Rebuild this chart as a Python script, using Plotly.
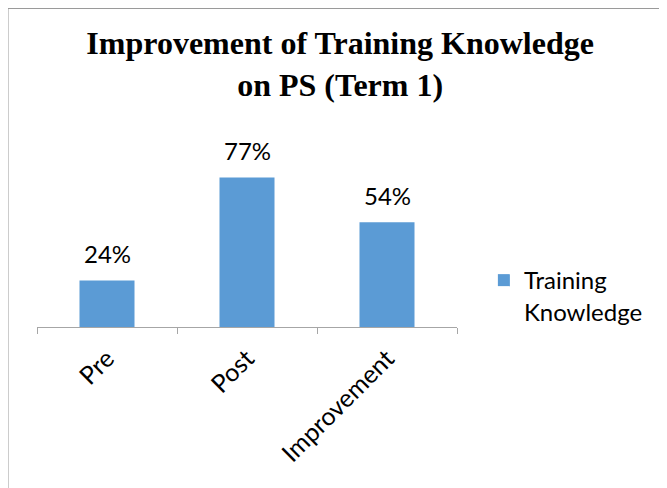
import plotly.graph_objects as go

categories = ["Pre", "Post", "Improvement"]
values = [0.24, 0.77, 0.54]
labels = ["24%", "77%", "54%"]
series_name = "Training<br>Knowledge"

BAR = "#5b9bd5"
GREY = "#9a9a9a"
AXIS = "#a6a6a6"
FONT = "Lato"

W, H = 659, 480
L, T, PW, PH = 29, 142, 420, 177

fig = go.Figure()
fig.add_trace(go.Bar(x=categories, y=values, name=series_name,
                     marker=dict(color=BAR, line=dict(width=0)),
                     showlegend=True))

for c, v, t in zip(categories, values, labels):
    fig.add_annotation(x=c, y=v, text=t, showarrow=False, yanchor="middle",
                       yshift=27, font=dict(family=FONT, size=24, color="#000"))

fig.add_shape(type="rect", xref="paper", yref="paper",
              x0=(-0.5 - L) / PW, x1=(W + 50 - L) / PW,
              y0=-2.5, y1=1 + (T + 0.0) / PH,
              line=dict(color=GREY, width=2), layer="below")

fig.update_layout(
    width=W, height=H,
    margin=dict(l=L, r=W - L - PW, t=T, b=H - T - PH, autoexpand=False),
    paper_bgcolor="white", plot_bgcolor="white",
    bargap=0.607,
    title=dict(text="<b>Improvement of Training Knowledge<br>on PS (Term 1)</b>",
               x=0.504, xanchor="center", y=1 - 46 / H, yanchor="middle",
               font=dict(family="Liberation Serif", size=32, color="#000")),
    xaxis=dict(showline=True, linecolor=AXIS, linewidth=1,
               ticks="outside", tickson="boundaries", ticklen=6, tickcolor=AXIS,
               tickangle=-45, ticklabelstandoff=6,
               tickfont=dict(family=FONT, size=25, color="#000"),
               showgrid=False, automargin=False),
    yaxis=dict(range=[0, PH / 194], visible=False, showgrid=False),
    legend=dict(x=1.064, xanchor="left", y=0.175, yanchor="middle",
                valign="top", itemwidth=30,
                font=dict(family=FONT, size=24, color="#000"),
                bgcolor="rgba(0,0,0,0)"),
)

fig.write_html("out.html")
